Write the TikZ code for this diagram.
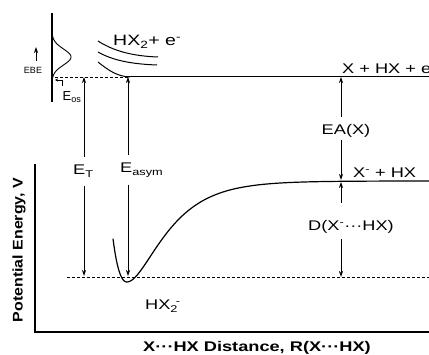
\documentclass[tikz,border=0pt]{standalone}
\usepackage{fontspec}
\setmainfont{Liberation Sans}[FakeStretch=1.3]
\newfontfamily\plainfont{Liberation Sans}
\newfontfamily\vlabfont{Liberation Sans}[FakeStretch=1.14]
\usetikzlibrary{arrows.meta}
\begin{document}
\begin{tikzpicture}[x=1pt,y=-1pt,
  txt/.style={font=\fontsize{14}{16}\selectfont, inner sep=0pt},
  bigtxt/.style={font=\fontsize{15}{17}\selectfont, inner sep=0pt},
  smalltxt/.style={font=\plainfont\fontsize{9}{10}\selectfont, inner sep=0pt},
  eostxt/.style={font=\plainfont\fontsize{13}{15}\selectfont, inner sep=0pt},
  boldlab/.style={font=\bfseries\fontsize{14}{16}\selectfont, inner sep=0pt},
  vlab/.style={font=\vlabfont\bfseries\fontsize{14}{16}\selectfont, inner sep=0pt},
  lev/.style={line width=1pt},
  dashlev/.style={line width=0.6pt, dash pattern=on 3pt off 2pt},
  arr/.style={line width=0.8pt, -{Stealth[length=6pt,width=4pt]}},
  tinyarr/.style={line width=0.6pt, -{Stealth[length=3pt,width=3pt]}},
]
\useasboundingbox (0,0) rectangle (429,355);

% axes
\draw[line width=1.3pt] (35,164) -- (35,332) -- (429,332);

% spectrum
\draw[line width=1.8pt] (52,13) -- (52,102);
\draw[line width=0.9pt] plot[domain=28:84, samples=70, smooth]
  ({52+19*exp(-((\x-57)*(\x-57))/128)}, \x);

% neutral levels
\draw[dashlev] (55,77) -- (128,77);
\draw[lev] (128,77) -- (429,77);
\draw[lev] (98,62) .. controls (108,70) and (117,76.5) .. (130,77);
\draw[lev] (98,52) .. controls (112,60) and (130,64) .. (157,65);
\draw[lev] (98,41) .. controls (112,50) and (130,56) .. (158,57);

% anion potential
\draw[line width=1.2pt] plot[domain=113:127, samples=30, smooth]
  (\x, {181+101*(1-(1-exp(-0.036*(\x-127)))*(1-exp(-0.036*(\x-127))))});
\draw[line width=1.2pt] plot[domain=127:429, samples=120, smooth]
  (\x, {181+101*(1-(1-exp(-0.03*(\x-127)))*(1-exp(-0.03*(\x-127))))});
\draw[dashlev] (67,277) -- (429,277);

% texts
\node[bigtxt, anchor=base west] (hx2e) at (113,46) {HX\textsubscript{2}+ e\textsuperscript{-}};
\node[txt, anchor=base west] (xhxe) at (342,74) {X + HX + e\textsuperscript{-}};
\node[smalltxt] (ebe) at (33,70) {EBE};
\node[eostxt] (eos) at (72,97) {E\textsubscript{os}};
\node[txt, anchor=base west] (et) at (73,175) {E\textsubscript{T}};
\node[txt, anchor=base west] (easym) at (120,173) {E\textsubscript{asym}};
\node[txt, anchor=base] (ea) at (346,135) {EA(X)};
\node[txt, anchor=base west] (xm) at (353,178) {X\textsuperscript{-} + HX};
\node[txt, anchor=base west] (dlab) at (308,231) {D(X\textsuperscript{-}···HX)};
\node[txt, anchor=base west] (hx2m) at (145,310) {HX\textsubscript{2}\kern-0.15em\textsuperscript{-}};
\node[vlab, rotate=90] (ylab) at (19,250) {Potential Energy, V};
\node[boldlab, anchor=base] (xlab) at (257,352) {X···HX Distance, R(X···HX)};

% small arrows
\coordinate (ebe1) at (36,61); \coordinate (ebe2) at (36,47);
\draw[arr] (ebe1) -- (ebe2);
\coordinate (eos1) at (62,86); \coordinate (eos2) at (55,80);
\draw[tinyarr] (eos1) |- (eos2);

% E_T
\coordinate (t1) at (84,157); \coordinate (t0) at (84,77);
\coordinate (t2) at (84,186); \coordinate (t3) at (84,276);
\draw[arr] (t1) -- (t0);
\draw[arr] (t2) -- (t3);

% E_asym
\coordinate (a1) at (128,155); \coordinate (a0) at (128,77);
\coordinate (a2) at (128,185); \coordinate (a3) at (128,276);
\draw[arr, line width=0.6pt] (a1) -- (a0);
\draw[arr, line width=0.6pt] (a2) -- (a3);

% EA(X)
\coordinate (e1) at (341,117); \coordinate (e0) at (341,77);
\coordinate (e2) at (341,140); \coordinate (e3) at (341,180);
\draw[arr] (e1) -- (e0);
\draw[arr] (e2) -- (e3);

% D
\coordinate (d1) at (341,203); \coordinate (d0) at (341,182);
\coordinate (d2) at (341,239); \coordinate (d3) at (341,277);
\draw[arr] (d1) -- (d0);
\draw[arr] (d2) -- (d3);
\end{tikzpicture}
\end{document}
